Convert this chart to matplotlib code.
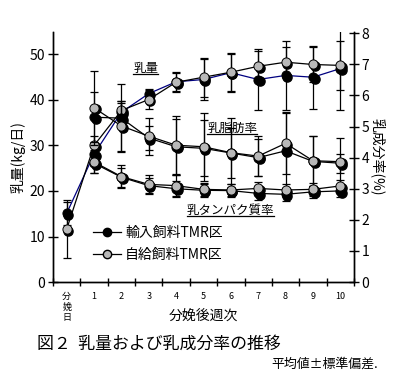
import matplotlib
matplotlib.use('Agg')
import matplotlib.pyplot as plt
import numpy as np
from matplotlib.transforms import offset_copy
from matplotlib.lines import Line2D

plt.rcParams['font.family'] = ['Noto Sans CJK JP', 'DejaVu Sans']

weeks = ['分\n娩\n日', '1', '2', '3', '4', '5', '6', '7', '8', '9', '10']

# 乳量 (kg/日)
milk_import = [15.1, 28.1, 37.3, 41.4, 44.0, 44.5, 46.0, 44.5, 45.4, 45.0, 46.9]
milk_import_sd = [2.5, 2.5, 2.0, 1.0, 2.0, 4.5, 4.0, 6.6, 7.5, 6.9, 9.0]
milk_self = [11.6, 30.0, 37.7, 40.1, 43.9, 45.0, 46.1, 47.4, 48.3, 47.8, 47.6]
milk_self_sd = [6.4, 2.0, 2.0, 2.0, 2.2, 4.3, 4.3, 3.3, 3.3, 3.8, 5.3]

# 乳脂肪率 (%)
fat_import = [np.nan, 5.30, 5.27, 4.63, 4.35, 4.30, 4.15, 4.00, 4.22, 3.88, 3.82]
fat_import_sd = [np.nan, 0.8, 1.1, 0.4, 0.9, 0.9, 0.8, 0.6, 1.2, 0.8, 0.3]
fat_self = [np.nan, 5.60, 5.02, 4.69, 4.40, 4.35, 4.16, 4.05, 4.46, 3.90, 3.87]
fat_self_sd = [np.nan, 1.2, 0.8, 0.6, 0.94, 1.1, 1.1, 0.65, 1.0, 0.8, 0.76]

# 乳タンパク質率 (%)
prot_import = [np.nan, 3.82, 3.37, 3.10, 3.00, 2.95, 2.94, 2.85, 2.82, 2.90, 2.93]
prot_import_sd = [np.nan, 0.3, 0.3, 0.25, 0.25, 0.2, 0.2, 0.2, 0.2, 0.2, 0.2]
prot_self = [np.nan, 3.86, 3.39, 3.14, 3.10, 2.98, 2.96, 3.01, 2.96, 2.98, 3.09]
prot_self_sd = [np.nan, 0.37, 0.37, 0.30, 0.33, 0.21, 0.2, 0.2, 0.2, 0.2, 0.2]

legend_labels = ['輸入飼料TMR区', '自給飼料TMR区']
GRAY = '#b8b8b8'

fig = plt.figure(figsize=(4, 3.84), dpi=100)
ax = fig.add_axes([0.1325, 0.2656, 0.7525, 0.6518])
ax2 = ax.twinx()

x = np.arange(len(weeks))


def draw_series(a, y, sd, face, linecolor, z):
    a.errorbar(x, y, yerr=sd, fmt='none', ecolor='black', elinewidth=0.9,
               capsize=3, capthick=0.9, zorder=z)
    a.plot(x, y, '-', color=linecolor, lw=0.9, zorder=z + 0.1)
    sh = offset_copy(a.transData, fig=fig, x=1.6, y=-1.6, units='dots')
    a.plot(x, y, 'o', ms=6.6, color='black', mec='black', transform=sh,
           zorder=z + 0.2, linestyle='none')
    a.plot(x, y, 'o', ms=6.6, mfc=face, mec='black', mew=0.7,
           zorder=z + 0.3, linestyle='none')


draw_series(ax, milk_import, milk_import_sd, 'black', '#000080', 3)
draw_series(ax, milk_self, milk_self_sd, GRAY, 'black', 4)
draw_series(ax2, fat_import, fat_import_sd, 'black', 'black', 3)
draw_series(ax2, prot_import, prot_import_sd, 'black', 'black', 3)
draw_series(ax2, fat_self, fat_self_sd, GRAY, 'black', 4)
draw_series(ax2, prot_self, prot_self_sd, GRAY, 'black', 4)

ax.set_xlim(-0.5, 10.5)
ax.set_ylim(0, 55)
ax2.set_ylim(0, 8.05)

for a in (ax, ax2):
    a.spines['top'].set_visible(False)
    for s in a.spines.values():
        s.set_linewidth(1.0)

ax.set_yticks(np.arange(0, 51, 10))
ax2.set_yticks(np.arange(0, 9, 1))
ax.tick_params(axis='y', direction='inout', length=7, width=1, labelsize=10, pad=2)
ax2.tick_params(axis='y', direction='inout', length=7, width=1, labelsize=10, pad=2)

ax.set_xticks(np.arange(-0.5, 11, 1))
ax.set_xticklabels([])
ax.set_xticks(x, minor=True)
ax.set_xticklabels(weeks, minor=True, fontsize=6.5, linespacing=1.25)
ax.tick_params(axis='x', which='major', direction='inout', length=6, width=1)
ax.tick_params(axis='x', which='minor', length=0, pad=7)

ax.set_ylabel('乳量(kg/日)', fontsize=10)
ax.yaxis.set_label_coords(-0.09, 0.5)
ax2.set_ylabel('乳成分率(%)', fontsize=10, rotation=-90, labelpad=12)
ax2.yaxis.set_label_coords(1.105, 0.5)

ax.set_xlabel('分娩後週次', fontsize=10)
ax.xaxis.set_label_coords(0.5, -0.105)

# legend
handles = [Line2D([], [], color='black', lw=0.9, marker='o', ms=6, mfc='black', mec='black'),
           Line2D([], [], color='black', lw=0.9, marker='o', ms=6, mfc=GRAY, mec='black')]
ax2.legend(handles, legend_labels, loc='upper left', bbox_to_anchor=(0.115, 0.245),
           frameon=False, fontsize=10, handlelength=2.0, handletextpad=0.3,
           labelspacing=0.55, borderaxespad=0)

# annotations with underline
notes = [('乳量', 0.266, 0.853), ('乳脂肪率', 0.512, 0.614), ('乳タンパク質率', 0.445, 0.287)]
texts = []
for t, xx, yy in notes:
    texts.append(ax2.text(xx, yy, t, transform=ax2.transAxes, fontsize=9,
                          ha='left', va='center', zorder=10))

fig.text(0.092, 0.105, '図２  乳量および乳成分率の推移', fontsize=12.2, ha='left', va='center')
fig.text(0.945, 0.052, '平均値±標準偏差.', fontsize=9.3, ha='right', va='center')

fig.canvas.draw()
r = fig.canvas.get_renderer()
inv = ax2.transAxes.inverted()
for tx in texts:
    bb = tx.get_window_extent(r)
    (x0, y0), (x1, y1) = inv.transform([(bb.x0, bb.y0 + 1), (bb.x1, bb.y0 + 1)])
    ax2.plot([x0, x1], [y0, y1], color='black', lw=0.9, transform=ax2.transAxes,
             clip_on=False, zorder=10)

fig.savefig('out.png', dpi=100)
